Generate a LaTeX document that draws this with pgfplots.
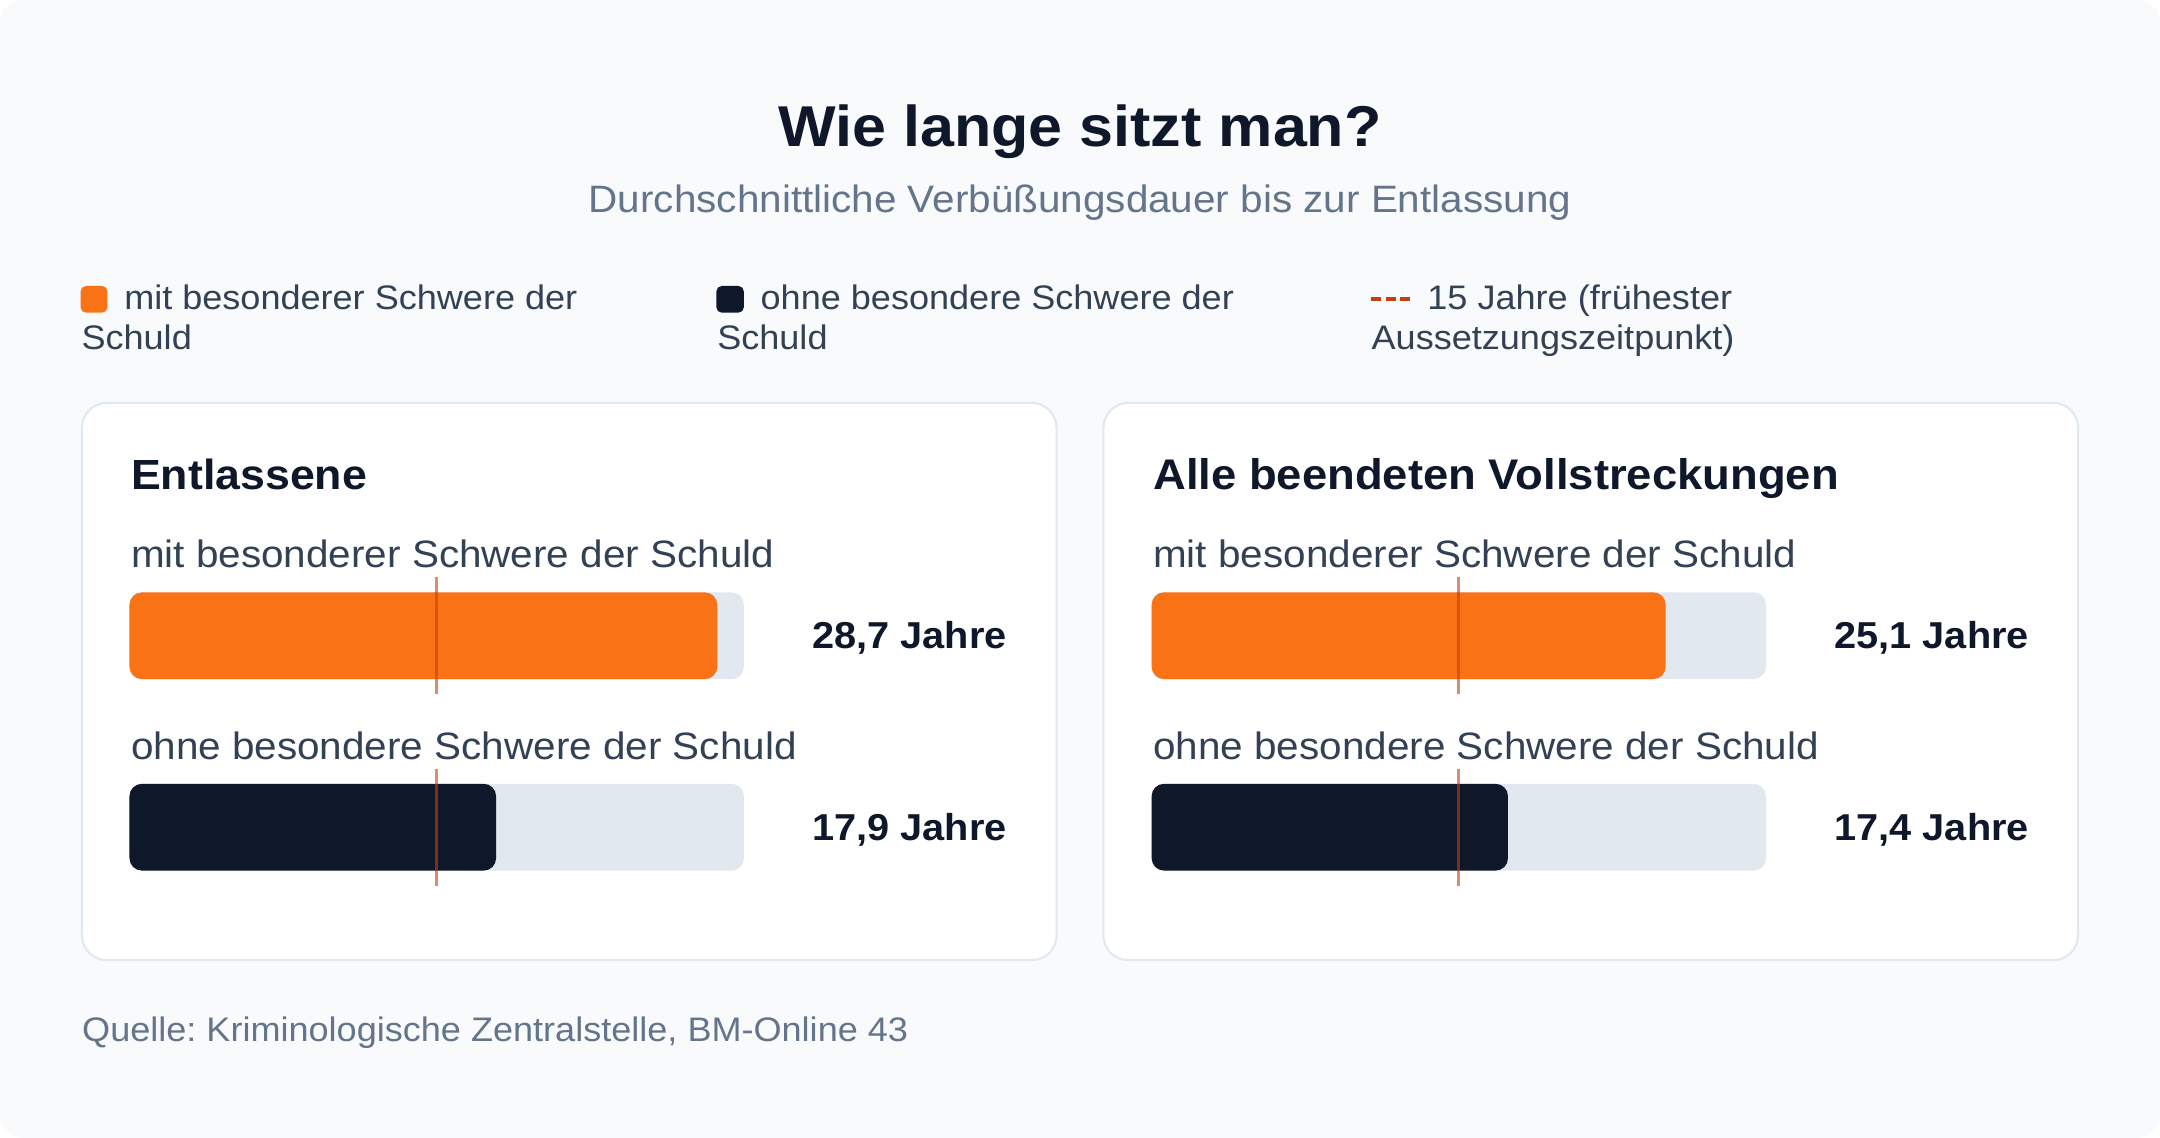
\documentclass[border=0pt]{standalone}
\usepackage{pgfplots}
\pgfplotsset{compat=1.18}
\usepackage{fontspec}
\setmainfont{Liberation Sans}[FakeStretch=1.06]
\frenchspacing

\definecolor{bg}{HTML}{F8FAFC}
\definecolor{cardline}{HTML}{E2E8F0}
\definecolor{track}{HTML}{E2E8F0}
\definecolor{mitS}{HTML}{F97316}
\definecolor{ohneS}{HTML}{0F172A}
\definecolor{mark15}{HTML}{C2410C}
\definecolor{ink}{HTML}{0F172A}
\definecolor{body}{HTML}{334155}
\definecolor{muted}{HTML}{64748B}

\newcommand{\fs}[1]{\fontsize{#1}{1.2\dimexpr#1\relax}\selectfont}

\pgfplotsset{
  panel/.style={
    scale only axis, width=446pt, height=278pt,
    xmin=0, xmax=30, ymin=-0.5, ymax=1.5,
    hide axis, clip=false, anchor=origin},
  hbar/.style={xbar, bar width=63pt, bar shift=0pt, draw=none, rounded corners=9pt},
  line15/.style={no marks, sharp plot, line width=2.2pt, draw=mark15, opacity=0.6},
}

\begin{document}
\begin{tikzpicture}[x=1pt,y=1pt]
\useasboundingbox (0,0) rectangle (1568,826);
\fill[white] (0,0) rectangle (1568,826);
\fill[bg, rounded corners=17pt] (0,0) rectangle (1568,826);

% title and subtitle
\node[anchor=base, inner sep=0, text=ink, font=\fs{41.8pt}\bfseries] at (784,720) {Wie lange sitzt man?};
\node[anchor=base, inner sep=0, text=muted, font=\fs{27.7pt}] at (784,672) {Durchschnittliche Verbüßungsdauer bis zur Entlassung};

% legend
\fill[mitS, rounded corners=4pt] (58.5,599) rectangle (78,618.4);
\node[anchor=base west, inner sep=0, text=body, font=\fs{24.7pt}] at (90,601) {mit besonderer Schwere der};
\node[anchor=base west, inner sep=0, text=body, font=\fs{24.7pt}] at (59,572.5) {Schuld};
\fill[ohneS, rounded corners=4pt] (520,599) rectangle (540,618.4);
\node[anchor=base west, inner sep=0, text=body, font=\fs{24.7pt}] at (552,601) {ohne besondere Schwere der};
\node[anchor=base west, inner sep=0, text=body, font=\fs{24.7pt}] at (520.5,572.5) {Schuld};
\draw[mark15, line width=2.7pt, dash pattern=on 7.3pt off 3.5pt] (995,609) -- (1024,609);
\node[anchor=base west, inner sep=0, text=body, font=\fs{24.7pt}] at (1036,601) {15 Jahre (frühester};
\node[anchor=base west, inner sep=0, text=body, font=\fs{24.7pt}] at (995.5,572.5) {Aussetzungszeitpunkt)};

% cards
\filldraw[fill=white, draw=cardline, line width=1.5pt, rounded corners=18pt] (59.5,129) rectangle (767,533.5);
\filldraw[fill=white, draw=cardline, line width=1.5pt, rounded corners=18pt] (801,129) rectangle (1508.5,533.5);

% left panel
\node[anchor=base west, inner sep=0, text=ink, font=\fs{30.6pt}\bfseries] at (95,471) {Entlassene};
\node[anchor=base west, inner sep=0, text=body, font=\fs{27.7pt}] at (95,414) {mit besonderer Schwere der Schuld};
\node[anchor=base west, inner sep=0, text=body, font=\fs{27.7pt}] at (95,275) {ohne besondere Schwere der Schuld};
\node[anchor=base east, inner sep=0, text=ink, font=\fs{27.2pt}\bfseries] at (731,355) {28,7 Jahre};
\node[anchor=base east, inner sep=0, text=ink, font=\fs{27.2pt}\bfseries] at (731,216) {17,9 Jahre};

\begin{axis}[panel, at={(94pt,225.5pt)}]
\addplot[hbar, fill=track] coordinates {(30,1) (30,0)};
\addplot[hbar, fill=mitS] coordinates {(28.7,1)};
\addplot[hbar, fill=ohneS] coordinates {(17.9,0)};
\addplot[line15] coordinates {(15,0.694) (15,1.306)};
\addplot[line15] coordinates {(15,-0.306) (15,0.306)};
\end{axis}

% right panel
\node[anchor=base west, inner sep=0, text=ink, font=\fs{31.1pt}\bfseries] at (837,471) {Alle beendeten Vollstreckungen};
\node[anchor=base west, inner sep=0, text=body, font=\fs{27.7pt}] at (837,414) {mit besonderer Schwere der Schuld};
\node[anchor=base west, inner sep=0, text=body, font=\fs{27.7pt}] at (837,275) {ohne besondere Schwere der Schuld};
\node[anchor=base east, inner sep=0, text=ink, font=\fs{27.2pt}\bfseries] at (1473,355) {25,1 Jahre};
\node[anchor=base east, inner sep=0, text=ink, font=\fs{27.2pt}\bfseries] at (1473,216) {17,4 Jahre};

\begin{axis}[panel, at={(836pt,225.5pt)}]
\addplot[hbar, fill=track] coordinates {(30,1) (30,0)};
\addplot[hbar, fill=mitS] coordinates {(25.1,1)};
\addplot[hbar, fill=ohneS] coordinates {(17.4,0)};
\addplot[line15] coordinates {(15,0.694) (15,1.306)};
\addplot[line15] coordinates {(15,-0.306) (15,0.306)};
\end{axis}

% source
\node[anchor=base west, inner sep=0, text=muted, font=\fs{24.7pt}] at (59.5,70) {Quelle: Kriminologische Zentralstelle, BM-Online 43};
\end{tikzpicture}
\end{document}
